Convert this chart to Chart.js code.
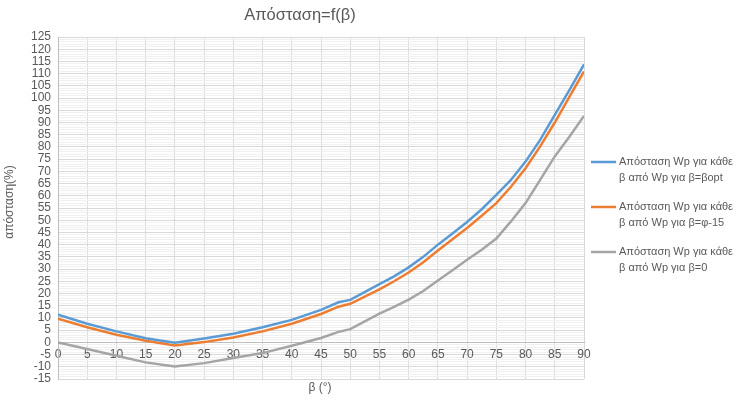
<!DOCTYPE html>
<html>
<head>
<meta charset="utf-8">
<script src="https://cdn.jsdelivr.net/npm/chart.js@4/dist/chart.umd.min.js"></script>
<style>
    body { margin: 0; background: #fff; }
</style>
</head>
<body>
<canvas id="apostasi" width="741" height="404"></canvas>
<script>
// β in degrees
const beta = [0, 5, 10, 15, 20, 25, 30, 35, 40, 45, 48, 50, 55, 57.5, 60, 62.5, 65, 67.5, 70, 72.5, 75, 77.5, 80, 82.5, 85, 87.5, 90]
const apoBopt = [11.3, 7.6, 4.5, 1.7, -0.2, 1.6, 3.5, 6.2, 9.2, 13.3, 16.4, 17.4, 23.8, 27.0, 30.7, 35.0, 40.0, 44.6, 49.3, 54.5, 60.4, 66.5, 74.0, 82.9, 93.1, 103.3, 113.8]
const apoPhi15 = [9.7, 6.2, 3.1, 0.7, -1.3, 0.1, 2.0, 4.5, 7.6, 11.6, 14.6, 15.8, 21.7, 25.0, 28.6, 32.8, 37.6, 42.2, 46.8, 51.8, 57.0, 63.7, 71.3, 80.2, 90.0, 100.5, 110.9]
const apoZero = [0, -2.7, -5.5, -8.2, -9.9, -8.5, -6.4, -4.4, -1.4, 1.8, 4.3, 5.4, 11.8, 14.5, 17.5, 21.0, 25.3, 29.5, 33.8, 37.9, 42.5, 49.5, 57.0, 66.5, 76.1, 84.2, 92.7]

const seriesNames = [
    ['Απόσταση Wp για κάθε', 'β από Wp για β=βopt'],
    ['Απόσταση Wp για κάθε', 'β από Wp για β=φ-15'],
    ['Απόσταση Wp για κάθε', 'β από Wp για β=0'],
]
const colors = ['#5B9BD5', '#ED7D31', '#A5A5A5']
const textColor = '#595959'
const fontFam = '"Liberation Sans", Arial, sans-serif'

function pts(ys) {
    return beta.map((b, i) => ({ x: b, y: ys[i] }))
}

// titles + legend drawn by hand, Excel style
const extras = {
    id: 'extras',
    afterDraw(chart) {
        const c = chart.ctx
        c.save()
        c.fillStyle = textColor
        c.textAlign = 'center'
        c.textBaseline = 'middle'
        c.font = '16.5px ' + fontFam
        c.fillText('Απόσταση=f(β)', 300, 15)
        c.font = '12px ' + fontFam
        c.fillText('β (°)', 320, 388)
        c.save()
        c.translate(10, 202)
        c.rotate(-Math.PI / 2)
        c.fillText('απόσταση(%)', 0, 0)
        c.restore()
        c.textAlign = 'left'
        c.font = '11px ' + fontFam
        seriesNames.forEach((lines, i) => {
            const y = 162 + i * 45
            c.strokeStyle = colors[i]
            c.lineWidth = 2.5
            c.beginPath()
            c.moveTo(591, y)
            c.lineTo(616, y)
            c.stroke()
            c.fillText(lines[0], 619, y)
            c.fillText(lines[1], 619, y + 16)
        })
        c.restore()
    },
}

const chart = new Chart(document.getElementById('apostasi'), {
    type: 'line',
    data: {
        datasets: [
            { label: seriesNames[0].join(' '), data: pts(apoBopt) },
            { label: seriesNames[1].join(' '), data: pts(apoPhi15) },
            { label: seriesNames[2].join(' '), data: pts(apoZero) },
        ].map((d, i) => ({
            ...d,
            borderColor: colors[i],
            backgroundColor: colors[i],
            borderWidth: 2.5,
            pointRadius: 0,
            tension: 0,
        })),
    },
    options: {
        responsive: false,
        animation: false,
        layout: { padding: { top: 37, right: 157, bottom: 25, left: 0 } },
        plugins: {
            legend: { display: false },
            tooltip: { enabled: false },
        },
        scales: {
            x: {
                type: 'linear',
                min: 0,
                max: 90,
                position: { y: 0 },
                ticks: {
                    stepSize: 5,
                    color: textColor,
                    font: { size: 12, family: fontFam },
                    padding: 5,
                    maxRotation: 0,
                },
                grid: { color: '#d9d9d9', drawTicks: false },
                border: { color: '#bfbfbf' },
            },
            y: {
                min: -15,
                max: 125,
                afterFit(scale) {
                    scale.width = 58
                },
                ticks: {
                    stepSize: 1,
                    autoSkip: false,
                    color: textColor,
                    font: { size: 12, family: fontFam },
                    padding: 7,
                    callback: (v) => (v % 5 === 0 ? v : ''),
                },
                grid: {
                    drawTicks: false,
                    color: (ctx) => (ctx.tick && ctx.tick.value % 5 === 0 ? '#d9d9d9' : '#f0f0f0'),
                },
                border: { color: '#bfbfbf' },
            },
        },
    },
    plugins: [extras],
})
</script>
</body>
</html>
